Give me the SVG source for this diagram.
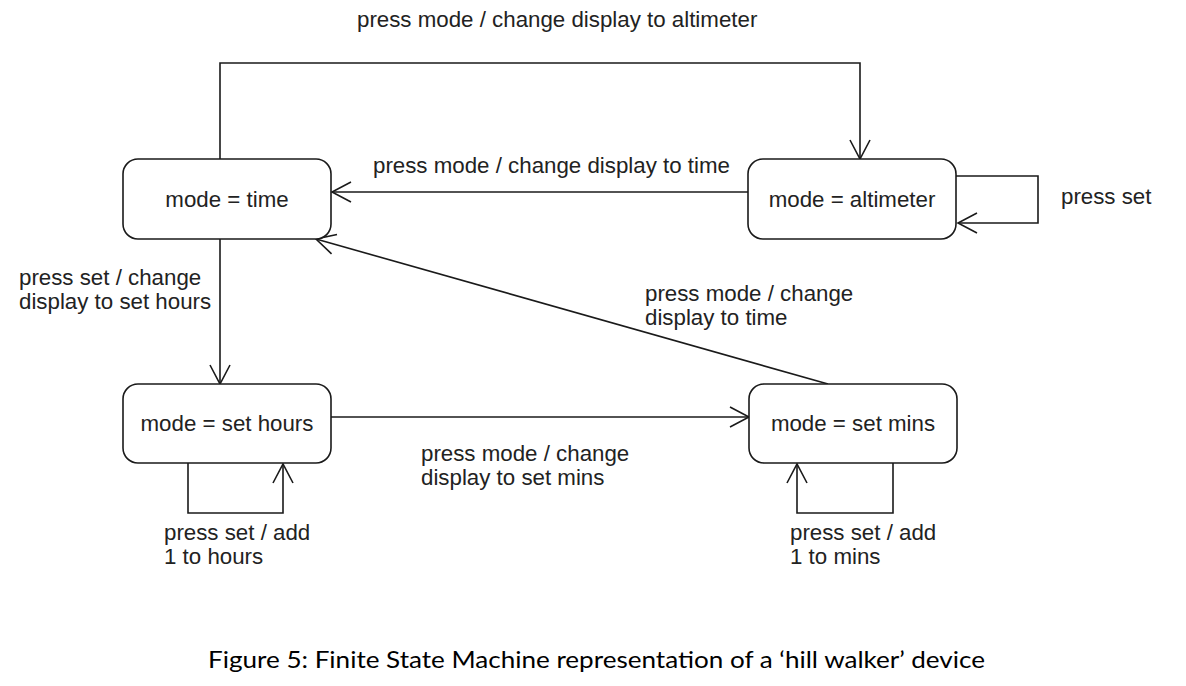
<svg xmlns="http://www.w3.org/2000/svg" width="1186" height="686" viewBox="0 0 1186 686">
<defs>
<marker id="arr" markerUnits="userSpaceOnUse" markerWidth="24" markerHeight="24" refX="0" refY="0" orient="auto" overflow="visible">
<path d="M-19,-10 L0,0 L-19,10" fill="none" stroke="#1a1a1a" stroke-width="1.6"/>
</marker>
<style>
.node rect{fill:#fff;stroke:#1a1a1a;stroke-width:1.6}
.nt{font-family:"Liberation Sans",Arial,sans-serif;font-size:22.3px;fill:#222;text-anchor:middle}
.lb{font-family:"Liberation Sans",Arial,sans-serif;font-size:22.3px;fill:#222}
.edge{fill:none;stroke:#1a1a1a;stroke-width:1.6;marker-end:url(#arr)}
.cap{font-family:Lato,"Open Sans",sans-serif;font-size:24px;fill:#000}
</style>
</defs>
<rect width="1186" height="686" fill="#fff"/>
<g id="connectors">
<path class="edge" d="M220,159 V63 H860 V159"/>
<path class="edge" d="M748,192 H332"/>
<path class="edge" d="M956,176 H1038 V223 H958"/>
<path class="edge" d="M220,239 V384"/>
<path class="edge" d="M828,384 L316,239"/>
<path class="edge" d="M331,417 H749"/>
<path class="edge" d="M188,463 V513 H283 V464"/>
<path class="edge" d="M893,463 V513 H797 V464"/>
</g>
<g id="labels">
<text class="lb" x="357" y="27">press mode / change display to altimeter</text>
<text class="lb" x="373" y="173">press mode / change display to time</text>
<text class="lb" x="1061" y="204">press set</text>
<text class="lb" x="19" y="285">press set / change</text>
<text class="lb" x="19" y="309">display to set hours</text>
<text class="lb" x="645" y="301">press mode / change</text>
<text class="lb" x="645" y="325">display to time</text>
<text class="lb" x="421" y="461">press mode / change</text>
<text class="lb" x="421" y="485">display to set mins</text>
<text class="lb" x="164" y="540">press set / add</text>
<text class="lb" x="164" y="564">1 to hours</text>
<text class="lb" x="790" y="540">press set / add</text>
<text class="lb" x="790" y="564">1 to mins</text>
</g>
<g id="node-time" class="node">
<rect x="123" y="159" width="208" height="80" rx="15"/>
<text class="nt" x="227" y="207">mode = time</text>
</g>
<g id="node-altimeter" class="node">
<rect x="748" y="159" width="208" height="80" rx="15"/>
<text class="nt" x="852" y="207">mode = altimeter</text>
</g>
<g id="node-sethours" class="node">
<rect x="123" y="384" width="208" height="79" rx="15"/>
<text class="nt" x="227" y="431">mode = set hours</text>
</g>
<g id="node-setmins" class="node">
<rect x="749" y="384" width="208" height="79" rx="15"/>
<text class="nt" x="853" y="431">mode = set mins</text>
</g>
<text class="cap" x="208" y="668" textLength="777" lengthAdjust="spacingAndGlyphs">Figure 5: Finite State Machine representation of a ‘hill walker’ device</text>
</svg>
